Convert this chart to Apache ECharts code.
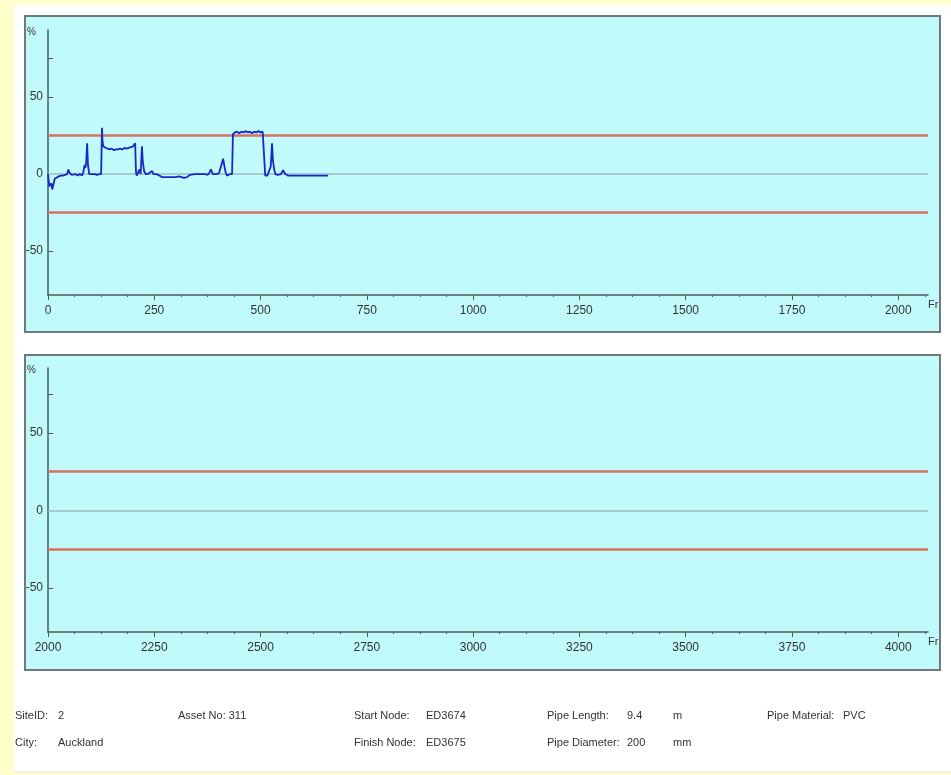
<!DOCTYPE html>
<html>
<head>
<meta charset="utf-8">
<script src="https://cdn.jsdelivr.net/npm/echarts@6/dist/echarts.min.js"></script>
<style>
  html, body { margin: 0; padding: 0; background: #ffffcc; }
  #chart { width: 951px; height: 775px; }
</style>
</head>
<body>
<div id="chart"></div>
<script>
// Pipe profile: deviation (%) against frame number
const frames = [0, 3, 5, 8, 10, 13, 16, 20, 25, 30, 35, 40, 45, 48, 50, 53, 56, 60, 65, 70, 75, 80,
  83, 86, 88, 90, 92, 94, 97, 100, 105, 110, 115, 120, 125, 127, 128, 130, 133, 136, 140, 145, 150,
  155, 160, 165, 170, 175, 180, 185, 190, 195, 200, 203, 205, 207, 209, 212, 215, 218, 221, 223, 226,
  230, 235, 240, 245, 248, 255, 262, 268, 280, 290, 300, 308, 311, 314, 320, 327, 334, 345, 360, 370,
  376, 380, 383, 388, 395, 402, 406, 409, 412, 415, 418, 421, 428, 433, 435, 440, 445, 450, 455, 460,
  465, 470, 475, 480, 485, 490, 495, 500, 505, 508, 511, 516, 520, 524, 527, 529, 532, 535, 540, 548,
  553, 558, 565, 575, 590, 610, 630, 659];
const deviation = [0, -8, -9, -6, -10, -9, -3, -2, -1.5, -1, -1, -0.5, 0, 3, 1, 0, -0.5, -1, 0, -1, 0, -1,
  1, 6, 4, 8, 20, 6, 0, -0.5, 0, 0, -0.5, 0, 0, 30, 22, 18, 19, 17, 17, 16, 16.5,
  15.5, 16, 16, 16.5, 16, 17, 16.5, 17, 17.5, 18, 19, 20, 1, -1, 0, 3, 0, 18, 8, 2,
  0, 0, 1, 2, 0, 0, -1, -2, -2, -2, -2, -1.5, -0.5, -2, -2.5, -2, -0.5, 0, 0, 0,
  -0.5, 1, 3, 0, 0, 0.5, 4, 7, 10, 5, 1, -1, 0, 0, 26, 27, 27.5, 26.5, 27.5, 27,
  28, 27, 27.5, 26.5, 27.5, 27, 28, 27, 27.5, 27, -1, -1, 0, 5, 20, 9, 3, 0, -0.5, 0,
  2.5, 0, -1, -1, -1, -1, -1, -1];

const topTicks = [0, 250, 500, 750, 1000, 1250, 1500, 1750, 2000];
const bottomTicks = [2000, 2250, 2500, 2750, 3000, 3250, 3500, 3750, 4000];
const yLabels = [-50, 0, 50];
const yTicks = [-50, 50, 75];
const limits = [25, -25];
const baseline = 0;

const siteInfo = [
  ['SiteID:', '2'], ['City:', 'Auckland'],
  ['Asset No:', '311'],
  ['Start Node:', 'ED3674'], ['Finish Node:', 'ED3675'],
  ['Pipe Length:', '9.4', 'm'], ['Pipe Diameter:', '200', 'mm'],
  ['Pipe Material:', 'PVC']
];

const FONT = "'Liberation Sans Narrow', 'Arial Narrow', 'Liberation Sans', Arial, sans-serif";
const AXIS_COLOR = '#4d5a5a';
const TEXT_COLOR = '#333333';

function plain(v) { return String(v); }

function xAxisFor(idx, min, ticks) {
  return {
    gridIndex: idx, type: 'value', min: min, max: min + 2070, interval: 250,
    axisLine: { onZero: false, lineStyle: { color: AXIS_COLOR, width: 1.5 } },
    axisTick: { customValues: ticks, length: 5, lineStyle: { color: AXIS_COLOR, width: 1 } },
    minorTick: { show: true, splitNumber: 4, length: 2, lineStyle: { color: AXIS_COLOR } },
    axisLabel: { customValues: ticks, formatter: plain, margin: 10, fontFamily: FONT, fontSize: 12, color: TEXT_COLOR },
    splitLine: { show: false },
    name: 'Fr', nameLocation: 'end', nameGap: 0,
    nameTextStyle: { fontFamily: FONT, fontSize: 11, color: TEXT_COLOR, verticalAlign: 'top', padding: [4, 0, 0, 0] }
  };
}

function yAxisFor(idx, max) {
  return {
    gridIndex: idx, type: 'value', min: -78.5, max: max,
    axisLine: { onZero: false, lineStyle: { color: AXIS_COLOR, width: 1.5 } },
    axisTick: { customValues: yTicks, inside: true, length: 5, lineStyle: { color: AXIS_COLOR } },
    axisLabel: { customValues: yLabels, formatter: plain, margin: 5, fontFamily: FONT, fontSize: 12, color: TEXT_COLOR },
    splitLine: { show: false },
    name: '%', nameLocation: 'end', nameGap: -2,
    nameTextStyle: { fontFamily: FONT, fontSize: 10, color: TEXT_COLOR, align: 'right', verticalAlign: 'middle', padding: [0, 12, 0, 0] }
  };
}

function limitLines() {
  return {
    symbol: 'none', silent: true, animation: false,
    label: { show: false },
    data: [
      { yAxis: baseline, lineStyle: { color: '#98bcbc', width: 1.5, type: 'solid' } },
      { yAxis: limits[0], lineStyle: { color: '#d8715f', width: 2.5, type: 'solid' } },
      { yAxis: limits[1], lineStyle: { color: '#d8715f', width: 2.5, type: 'solid' } }
    ]
  };
}

const profile = frames.map((f, i) => [f, deviation[i]]);

const footer = [];
function txt(x, y, s) {
  footer.push({ type: 'text', x: x, y: y, z: 10,
    style: { text: s, fill: TEXT_COLOR, font: '11px ' + FONT, textVerticalAlign: 'middle' } });
}
txt(15, 716, siteInfo[0][0]); txt(58, 716, siteInfo[0][1]);
txt(15, 743, siteInfo[1][0]); txt(58, 743, siteInfo[1][1]);
txt(178, 716, siteInfo[2][0] + ' ' + siteInfo[2][1]);
txt(354, 716, siteInfo[3][0]); txt(426, 716, siteInfo[3][1]);
txt(354, 743, siteInfo[4][0]); txt(426, 743, siteInfo[4][1]);
txt(547, 716, siteInfo[5][0]); txt(627, 716, siteInfo[5][1]); txt(673, 716, siteInfo[5][2]);
txt(547, 743, siteInfo[6][0]); txt(627, 743, siteInfo[6][1]); txt(673, 743, siteInfo[6][2]);
txt(767, 716, siteInfo[7][0]); txt(843, 716, siteInfo[7][1]);

const chart = echarts.init(document.getElementById('chart'), null, { renderer: 'canvas' });
chart.setOption({
  backgroundColor: '#ffffcc',
  animation: false,
  graphic: [
    { type: 'rect', z: -20, shape: { x: 14, y: 5, width: 937, height: 767 }, style: { fill: '#ffffff' } },
    { type: 'line', z: -19, shape: { x1: 14, y1: 772, x2: 951, y2: 772 }, style: { stroke: '#e2e2e2', lineWidth: 1 } },
    { type: 'rect', z: -18, shape: { x: 25, y: 16, width: 915, height: 316 },
      style: { fill: '#c1fafa', stroke: '#6d7b7b', lineWidth: 2 } },
    { type: 'rect', z: -18, shape: { x: 25, y: 355, width: 915, height: 315 },
      style: { fill: '#c1fafa', stroke: '#6d7b7b', lineWidth: 2 } }
  ].concat(footer),
  grid: [
    { left: 48, top: 30, width: 880, height: 265 },
    { left: 48, top: 368, width: 880, height: 264 }
  ],
  xAxis: [xAxisFor(0, 0, topTicks), xAxisFor(1, 2000, bottomTicks)],
  yAxis: [yAxisFor(0, 93.5), yAxisFor(1, 92)],
  series: [
    {
      type: 'line', xAxisIndex: 0, yAxisIndex: 0, data: profile,
      showSymbol: false, symbol: 'none', z: 5,
      lineStyle: { color: '#1a28c8', width: 1.8 },
      markLine: limitLines()
    },
    {
      type: 'line', xAxisIndex: 1, yAxisIndex: 1, data: [],
      showSymbol: false, symbol: 'none',
      markLine: limitLines()
    }
  ]
});
</script>
</body>
</html>
